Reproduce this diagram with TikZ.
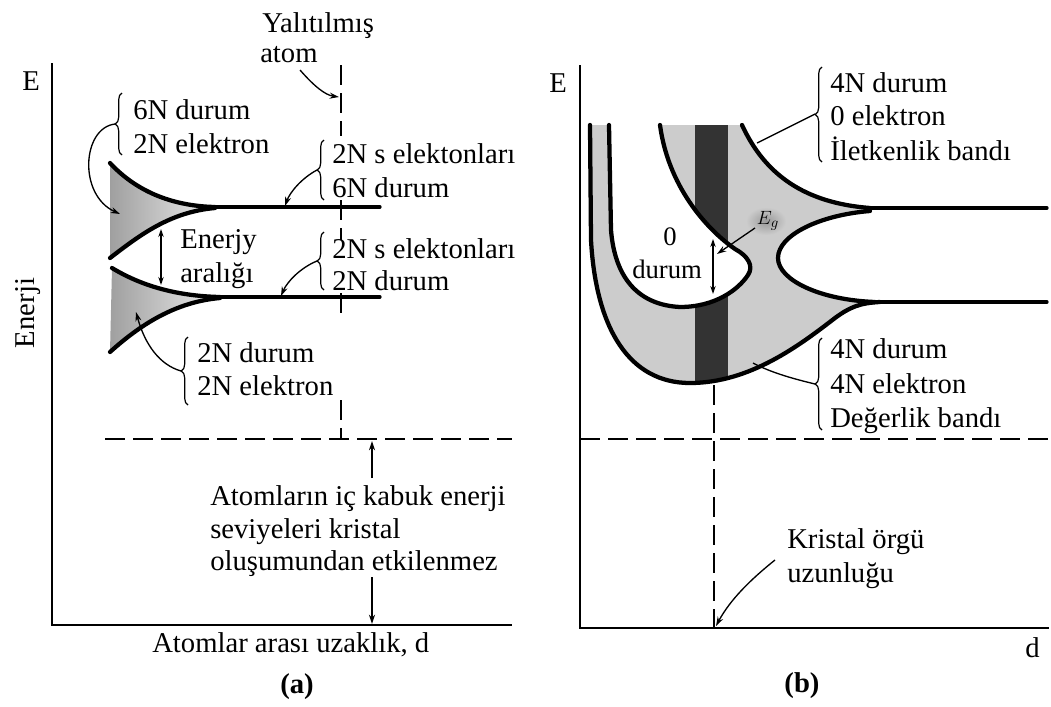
\documentclass[tikz,border=0pt]{standalone}
\usepackage{fontspec}
\setmainfont{Liberation Serif}
\usetikzlibrary{arrows.meta,decorations.pathreplacing}
\begin{document}
\begin{tikzpicture}[x=0.75pt,y=-0.75pt,
  lbl/.style={inner sep=0pt,anchor=base west,font=\fontsize{21.5}{26}\selectfont},
  clbl/.style={inner sep=0pt,anchor=base,font=\fontsize{21.5}{26}\selectfont},
  ttl/.style={inner sep=0pt,anchor=base,font=\fontsize{21.5}{26}\selectfont\bfseries},
  axis/.style={line width=1.5pt},
  band/.style={line width=3.2pt,line cap=round,line join=round},
  tail/.style={line width=2.4pt,line cap=round},
  dsh/.style={line width=1.3pt,dash pattern=on 15pt off 6pt},
  lead/.style={line width=1pt},
  tip/.style={-{Stealth[length=7pt,width=4.5pt]}},
  dtip/.style={{Stealth[length=6pt,width=4pt]}-{Stealth[length=6pt,width=4pt]}},
  brc/.style={decorate,decoration={brace,amplitude=5pt},line width=0.9pt}
]
\useasboundingbox (0,0) rectangle (1051,707);

%================ (a) ================
\coordinate (aY) at (52,63);
\coordinate (aO) at (52,625);
\coordinate (aX) at (512,625);
\draw[axis] (aY) -- (aO) -- (aX);

% band fills
\shade[left color=gray!75,right color=gray!15] (110,163) .. controls (135,190) and (170,206) .. (215,207) .. controls (170,212) and (140,235) .. (110,258) -- cycle;
\shade[left color=gray!75,right color=gray!15] (112,268) .. controls (140,285) and (175,296) .. (220,297) .. controls (175,302) and (140,325) .. (110,352) -- cycle;

% band edges
\draw[band] (110,163) .. controls (135,190) and (170,206) .. (215,207);
\draw[band] (110,258) .. controls (140,235) and (170,212) .. (215,208);
\draw[tail] (215,207) -- (380,207);
\draw[band] (112,268) .. controls (140,285) and (175,296) .. (220,297);
\draw[band] (110,352) .. controls (140,325) and (175,302) .. (220,298);
\draw[tail] (220,297) -- (380,297);

% dashed lines (isolated atom line, hidden behind the labels)
\coordinate (isoT) at (341,65);
\coordinate (isoT2) at (341,136);
\coordinate (isoM1) at (341,200);
\coordinate (isoM2) at (341,240);
\coordinate (isoL1) at (341,293);
\coordinate (isoL2) at (341,318);
\coordinate (isoB1) at (341,400);
\coordinate (isoB) at (341,440);
\draw[dsh] (isoT) -- (isoT2);
\draw[dsh] (isoM1) -- (isoM2);
\draw[dsh] (isoL1) -- (isoL2);
\draw[dsh] (isoB1) -- (isoB);
\coordinate (coreL) at (105,439);
\coordinate (coreR) at (512,439);
\draw[dsh] (coreL) -- (coreR);

% labels
\node[lbl] (E1) at (22,90) {E};
\node[inner sep=0pt,anchor=base,rotate=90,font=\fontsize{21.5}{26}\selectfont] (enerji) at (35,313) {Enerji};
\node[lbl] (yal) at (262,32) {Yalıtılmış};
\node[lbl] (atom) at (260,62) {atom};
\node[lbl] (t6a) at (133,119) {6N durum};
\node[lbl] (t6b) at (133,153) {2N elektron};
\node[lbl] (tua) at (332,163) {2N s elektonları};
\node[lbl] (tub) at (332,197) {6N durum};
\node[lbl] (gapa) at (180,248) {Enerjy};
\node[lbl] (gapb) at (180,282) {aralığı};
\node[lbl] (tla) at (332,258) {2N s elektonları};
\node[lbl] (tlb) at (332,290) {2N durum};
\node[lbl] (t2a) at (197,362) {2N durum};
\node[lbl] (t2b) at (197,395) {2N elektron};
\node[lbl] (ica) at (210,505) {Atomların iç kabuk enerji};
\node[lbl] (icb) at (210,538) {seviyeleri kristal};
\node[lbl] (icc) at (210,570) {oluşumundan etkilenmez};
\node[lbl] (dlab) at (152,652) {Atomlar arası uzaklık, d};
\node[ttl] (capa) at (297,693) {(a)};

% braces
\draw[brc] (122,155) -- (122,93);
\draw[brc] (324,200) -- (324,140);
\draw[brc] (324,290) -- (324,232);
\draw[brc] (188,405) -- (188,337);

% leaders
\coordinate (atomS) at (300,70);
\coordinate (atomE) at (339,97);
\draw[lead,tip] (atomS) .. controls (314,86) and (325,95) .. (atomE);
\coordinate (b6) at (115,124);
\coordinate (b6e) at (120,214);
\draw[lead,tip] (b6) .. controls (82,128) and (78,195) .. (b6e);
\coordinate (bu) at (317,170);
\coordinate (bue) at (285,206);
\draw[lead,tip] (bu) .. controls (302,178) and (290,192) .. (bue);
\coordinate (bl) at (317,261);
\coordinate (ble) at (281,296);
\draw[lead,tip] (bl) .. controls (300,268) and (287,282) .. (ble);
\coordinate (b2) at (181,371);
\coordinate (b2e) at (136,312);
\draw[lead,tip] (b2) .. controls (160,365) and (145,345) .. (b2e);
\coordinate (gT) at (161,229);
\coordinate (gB) at (161,285);
\draw[lead,dtip] (gT) -- (gB);
\coordinate (icU) at (372,478);
\coordinate (icUe) at (372,441);
\draw[lead,tip] (icU) -- (icUe);
\coordinate (icD) at (372,577);
\coordinate (icDe) at (372,624);
\draw[lead,tip] (icD) -- (icDe);

%================ (b) ================
\coordinate (bY) at (580,65);
\coordinate (bO) at (580,628);
\coordinate (bX) at (1049,628);
\draw[axis] (bY) -- (bO) -- (bX);

\def\grayregion{(590,125) -- (591,240) .. controls (596,330) and (630,383) .. (690,383) .. controls (750,383) and (800,345) .. (835,318) .. controls (850,307) and (860,303) .. (880,302)
 -- (875,302) .. controls (820,300) and (778,280) .. (778,258) .. controls (778,235) and (820,215) .. (870,210)
 -- (870,208) .. controls (805,203) and (765,175) .. (742,125)
 -- (660,125) .. controls (668,185) and (705,228) .. (735,249) .. controls (748,256) and (754,266) .. (748,275) .. controls (738,290) and (715,307) .. (680,307) .. controls (640,305) and (615,280) .. (611,230) -- (609,125) -- cycle}
\fill[gray!40] \grayregion;
\begin{scope}
\clip \grayregion;
\fill[black!80] (695,120) rectangle (728,390);
\shade[inner color=gray!80,outer color=gray!40] (766,221) ellipse (20 and 14);
\end{scope}

\draw[band] (590,125) -- (591,240) .. controls (596,330) and (630,383) .. (690,383) .. controls (750,383) and (800,345) .. (835,318) .. controls (850,307) and (860,303) .. (880,302);
\draw[tail] (878,302) -- (1047,302);
\draw[band] (875,302) .. controls (820,300) and (778,280) .. (778,258) .. controls (778,235) and (820,215) .. (870,211);
\draw[band] (870,208) .. controls (805,203) and (765,175) .. (742,125);
\draw[tail] (865,208) -- (1047,208);
\draw[band] (660,125) .. controls (668,185) and (705,228) .. (735,249) .. controls (748,256) and (754,266) .. (748,275) .. controls (738,290) and (715,307) .. (680,307) .. controls (640,305) and (615,280) .. (611,230) -- (609,125);

\coordinate (vL) at (580,439);
\coordinate (vR) at (1051,439);
\draw[dsh] (vL) -- (vR);
\coordinate (kT) at (714,385);
\coordinate (kB) at (714,628);
\draw[dsh] (kT) -- (kB);

% labels
\node[lbl] (E2) at (549,92) {E};
\node[lbl] (ca) at (830,92) {4N durum};
\node[lbl] (cb) at (830,125) {0 elektron};
\node[lbl] (cc) at (830,160) {İletkenlik bandı};
\node[lbl] (va) at (830,358) {4N durum};
\node[lbl] (vb) at (830,393) {4N elektron};
\node[lbl] (vc) at (830,427) {Değerlik bandı};
\node[clbl,font=\fontsize{20}{24}\selectfont] (z0) at (670,245) {0};
\node[lbl,font=\fontsize{20}{24}\selectfont] (z1) at (632,278) {durum};
\node[inner sep=0pt,font=\fontsize{15}{17}\selectfont] (eg) at (768,221) {$E_g$};
\node[lbl] (ka) at (787,548) {Kristal örgü};
\node[lbl] (kb) at (787,582) {uzunluğu};
\node[lbl] (d2) at (1025,657) {d};
\node[ttl] (capb) at (802,692) {(b)};

% braces
\draw[brc] (822,162) -- (822,67);
\draw[brc] (822,430) -- (822,338);

% leaders
\coordinate (cbt) at (815,114);
\coordinate (cbe) at (757,143);
\draw[lead] (cbt) -- (cbe);
\coordinate (vbt) at (815,384);
\coordinate (vbe) at (753,363);
\draw[lead] (vbt) .. controls (790,378) and (770,372) .. (vbe);
\coordinate (egS) at (755,228);
\coordinate (egE) at (717,254);
\draw[lead,tip] (egS) -- (egE);
\coordinate (gT2) at (713,239);
\coordinate (gB2) at (713,294);
\draw[lead,dtip] (gT2) -- (gB2);
\coordinate (kS) at (775,560);
\coordinate (kE) at (716,626);
\draw[lead,tip] (kS) .. controls (750,580) and (730,600) .. (kE);
\end{tikzpicture}
\end{document}
